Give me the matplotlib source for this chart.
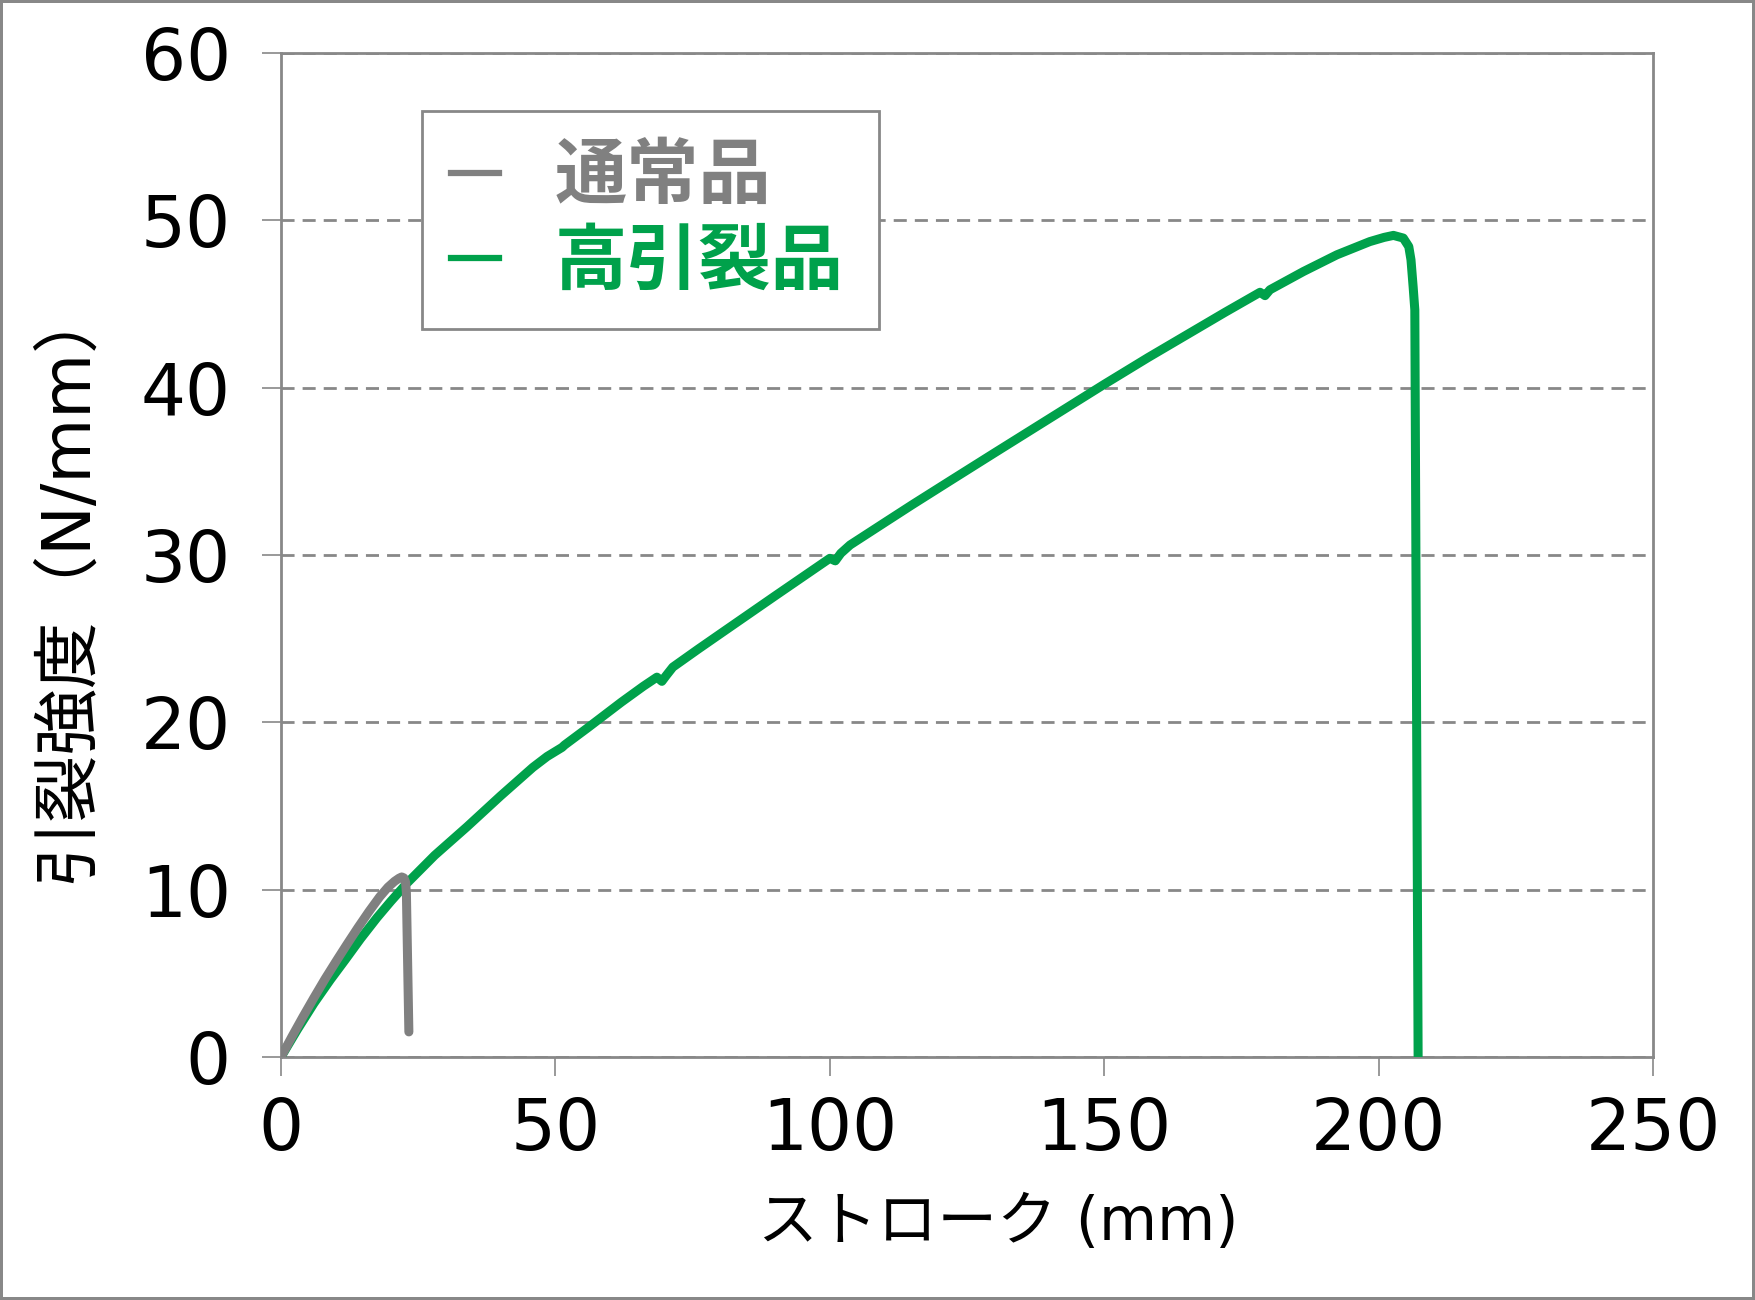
import matplotlib
matplotlib.use("Agg")
import matplotlib.pyplot as plt
from matplotlib.lines import Line2D

plt.rcParams['font.family'] = ['DejaVu Sans', 'Noto Sans CJK JP']

# ---- data ----
series_names = ["通常品", "高引裂品"]
normal_x = [0, 2, 4, 6, 8, 10.2, 12, 14, 16, 18, 19.5, 20.7, 21.5, 22.0, 22.4,
            22.7, 22.85, 23.0, 23.3]
normal_y = [0, 1.22, 2.4, 3.54, 4.65, 5.8, 6.72, 7.72, 8.68, 9.58, 10.15, 10.5,
            10.68, 10.76, 10.7, 10.45, 9.8, 7.0, 1.5]
high_x = [0, 3, 6, 9, 11.7, 14.5, 17.5, 20, 22.9, 28, 33.9, 40, 45.9, 48.5, 50.5,
          51.2, 51.7, 56, 62, 66, 68.5, 69.4, 70.2, 71.4, 76, 80, 90, 100, 101,
          102, 103.7, 110, 115, 122, 130, 140, 150, 158, 165, 172, 178.4, 179.3,
          180.2, 186.3, 192.4, 198.4, 201, 202.7, 204.5, 205.5, 205.9, 206.3,
          206.6, 207.2]
high_y = [0, 1.65, 3.21, 4.62, 5.81, 7.07, 8.33, 9.3, 10.37, 12.05, 13.76, 15.6,
          17.31, 17.96, 18.36, 18.5, 18.65, 19.7, 21.2, 22.15, 22.7, 22.45, 22.8,
          23.3, 24.37, 25.28, 27.55, 29.8, 29.65, 30.1, 30.6, 31.94, 33.0, 34.45,
          36.1, 38.15, 40.2, 41.8, 43.15, 44.5, 45.7, 45.5, 45.85, 46.94, 47.94,
          48.73, 48.98, 49.1, 48.94, 48.43, 47.64, 46.0, 44.65, 0]
x_ticks = [0, 50, 100, 150, 200, 250]
y_ticks = [0, 10, 20, 30, 40, 50, 60]
x_label = "ストローク (mm)"
y_label = "引裂強度（N/mm）"

GRAY = "#808080"
GREEN = "#00A14B"
AX_GRAY = "#888888"

fig = plt.figure(figsize=(17.55, 13.0), dpi=100)
fig.patch.set_edgecolor(AX_GRAY)
fig.patch.set_linewidth(3)
ax = fig.add_axes([281/1755, 1 - 1057/1300, (1653-281)/1755, (1057-53)/1300])

ax.plot(high_x, high_y, color=GREEN, lw=6.5, solid_capstyle='round',
        solid_joinstyle='round', zorder=3)
ax.plot(normal_x, normal_y, color=GRAY, lw=6.5, solid_capstyle='round',
        solid_joinstyle='round', zorder=4)

ax.set_xlim(0, 250)
ax.set_ylim(0, 60)
ax.set_xticks(x_ticks)
ax.set_yticks(y_ticks)
ax.tick_params(axis='both', direction='out', length=14, width=1.2, color=AX_GRAY,
               labelsize=51, labelcolor='black')
ax.tick_params(axis='y', pad=22)
ax.tick_params(axis='x', pad=14)
for s in ax.spines.values():
    s.set_color(AX_GRAY)
    s.set_linewidth(2)
ax.yaxis.grid(True, color=AX_GRAY, lw=2.0, linestyle=(0, (4.7, 2.9)))
ax.set_axisbelow(True)

fig.text(998/1755, 1 - 1223/1300, x_label, ha='center', va='center', fontsize=43)
fig.text(67/1755, 1 - 582/1300, y_label, ha='center', va='center', fontsize=48,
         rotation=90)

handles = [Line2D([], [], color=GRAY, lw=4.5), Line2D([], [], color=GREEN, lw=4.5)]
x0 = (422-281)/1372
y1 = (1057-111)/1004
w = (879-422)/1372
h = (322-112)/1004
leg = ax.legend(handles, series_names, loc='upper left',
                bbox_to_anchor=(x0, y1 - h, w, h), mode='expand',
                borderaxespad=0, handlelength=0.67,
                handletextpad=0.76, borderpad=0.4, labelspacing=0.15,
                fancybox=False, framealpha=1, edgecolor=AX_GRAY,
                prop={'weight': 'bold', 'size': 52, 'family': ['Noto Sans CJK JP']})
leg.get_frame().set_linewidth(2)
for t, c in zip(leg.get_texts(), [GRAY, GREEN]):
    t.set_color(c)

fig.savefig("out.png", dpi=100, edgecolor=fig.get_edgecolor())
